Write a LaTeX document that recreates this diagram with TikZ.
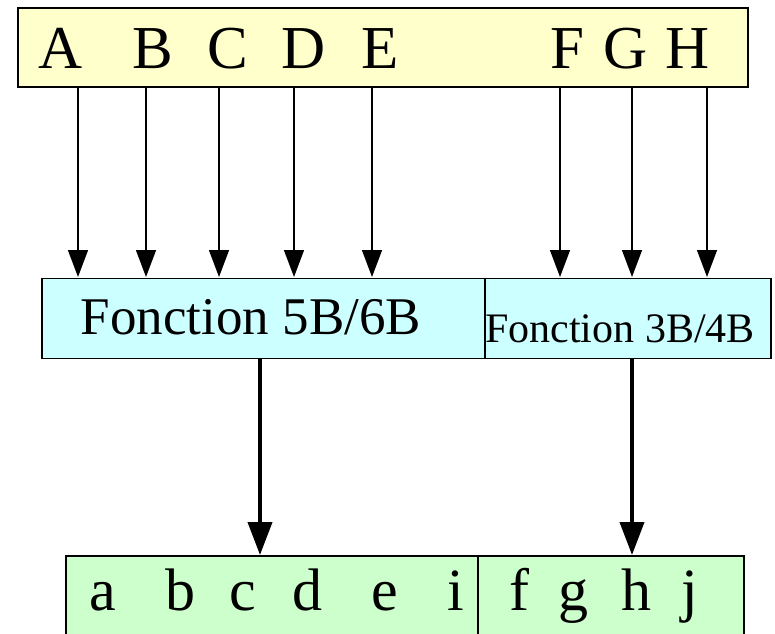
\documentclass[tikz,border=0pt]{standalone}
\usepackage{fontspec}
\setmainfont{Liberation Serif}
\usetikzlibrary{arrows.meta}
\definecolor{topfill}{HTML}{FFFFCC}
\definecolor{midfill}{HTML}{CCFFFF}
\definecolor{botfill}{HTML}{CCFFCC}
\tikzset{
  boxline/.style={draw=black, line width=1.4pt},
  bigletter/.style={anchor=base, inner sep=0pt, font=\fontsize{61}{61}\selectfont},
  smallletter/.style={anchor=base, inner sep=0pt, font=\fontsize{60}{60}\selectfont},
  thinarrow/.style={line width=1.3pt, -{Triangle[length=27pt,width=20pt]}},
  thickarrow/.style={line width=4pt, -{Triangle[length=33pt,width=24pt]}},
}
\begin{document}
\begin{tikzpicture}[x=1pt,y=-1pt]
\useasboundingbox (0,0) rectangle (775,633);
\clip (0,0) rectangle (775,633);
% boxes
\node[boxline, fill=topfill, minimum width=730pt, minimum height=79pt, inner sep=0pt] (top) at (383,47.5) {};
\node[boxline, fill=midfill, minimum width=443pt, minimum height=80pt, inner sep=0pt] (midL) at (263.5,318.5) {};
\node[boxline, fill=midfill, minimum width=286pt, minimum height=80pt, inner sep=0pt] (midR) at (628,318.5) {};
\node[boxline, line width=1.2pt, fill=botfill, minimum width=412pt, minimum height=100pt, inner sep=0pt] (botL) at (272,606) {};
\node[boxline, line width=1.2pt, fill=botfill, minimum width=266pt, minimum height=100pt, inner sep=0pt] (botR) at (611,606) {};
% top letters
\node[bigletter] (A) at (61,68) {A};
\node[bigletter] (B) at (153,68) {B};
\node[bigletter] (C) at (228,68) {C};
\node[bigletter] (D) at (304,68) {D};
\node[bigletter] (E) at (380,68) {E};
\node[bigletter] (F) at (567,68) {F};
\node[bigletter] (G) at (626,68) {G};
\node[bigletter] (H) at (688,68) {H};
% middle texts
\node[anchor=base, inner sep=0pt, font=\fontsize{53}{53}\selectfont] (f5) at (251,334) {Fonction 5B/6B};
\node[anchor=base, inner sep=0pt, font=\fontsize{42}{42}\selectfont] (f3) at (620,342) {Fonction 3B/4B};
% bottom letters
\node[smallletter] (a) at (103,610) {a};
\node[smallletter] (b) at (180,610) {b};
\node[smallletter] (c) at (243,610) {c};
\node[smallletter] (d) at (307,610) {d};
\node[smallletter] (e) at (385,610) {e};
\node[smallletter] (i) at (456,610) {i};
\node[smallletter] (f) at (519,610) {f};
\node[smallletter] (g) at (573,610) {g};
\node[smallletter] (h) at (636,610) {h};
\node[smallletter] (j) at (690,610) {j};
% thin arrows
\foreach \x/\n in {78/1,146/2,219/3,294/4,372/5,560/6,632/7,707/8} {
  \coordinate (s\n) at (\x,87);
  \coordinate (t\n) at (\x,277);
  \draw[thinarrow] (s\n) -- (t\n);
}
% thick arrows
\coordinate (u1) at (260,359);
\coordinate (v1) at (260,555);
\coordinate (u2) at (632,359);
\coordinate (v2) at (632,555);
\draw[thickarrow] (u1) -- (v1);
\draw[thickarrow] (u2) -- (v2);
\end{tikzpicture}
\end{document}
